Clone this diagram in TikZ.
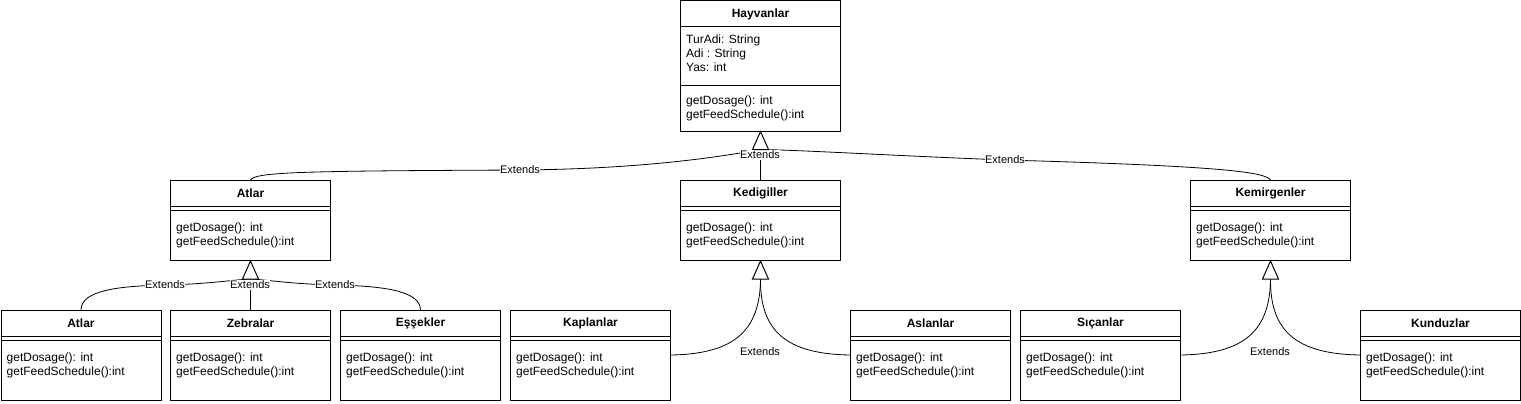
\documentclass[tikz,border=0pt]{standalone}
\usepackage{fontspec}
\setmainfont{Liberation Sans}
\usetikzlibrary{calc}
\tikzset{
  box/.style={draw, line width=1pt, fill=white, anchor=north west, minimum width=160pt, inner sep=0pt},
  title/.style={font=\fontsize{12}{14}\selectfont\bfseries, inner sep=0pt},
  member/.style={font=\fontsize{12}{14}\selectfont, anchor=north west, align=left, inner sep=0pt},
  sep/.style={line width=1pt},
  edge/.style={line width=0.8pt},
  lbl/.style={font=\fontsize{11}{13}\selectfont, fill=white, inner sep=0.5pt},
  tri/.style={draw, line width=1pt, fill=white}
}
\newcommand{\subclass}[5]{% name, x, y, title, height
  \node[box, minimum height=#5pt] (#1) at (#2,#3) {};
  \node[title] (#1t) at ($(#1.north)+(0,13.5)$) {#4};
  \draw[sep] ($(#1.north west)+(0,26)$) -- ($(#1.north east)+(0,26)$);
  \draw[sep] ($(#1.north west)+(0,30)$) -- ($(#1.north east)+(0,30)$);
  \node[member] (#1m) at ($(#1.north west)+(6,42.5)$) {getDosage(): int\\getFeedSchedule():int};
}
\newcommand{\opentri}[1]{% base-centre coordinate name
  \draw[tri] ($(#1)+(-8,0)$) -- ($(#1)+(0,-18)$) -- ($(#1)+(8,0)$) -- cycle;
}
\begin{document}
\begin{tikzpicture}[x=1pt,y=-1pt]
\useasboundingbox[fill=white] (0,0) rectangle (1521,404);

% root
\node[box, minimum height=130pt] (hay) at (680,0.5) {};
\node[title] (hayt) at ($(hay.north)+(0,13.5)$) {Hayvanlar};
\draw[sep] ($(hay.north west)+(0,26)$) -- ($(hay.north east)+(0,26)$);
\draw[sep] ($(hay.north west)+(0,85)$) -- ($(hay.north east)+(0,85)$);
\node[member] (haya) at ($(hay.north west)+(6,34.5)$) {TurAdi: String\\Adi : String\\Yas: int};
\node[member] (haym) at ($(hay.north west)+(6,95.5)$) {getDosage(): int\\getFeedSchedule():int};

% middle row
\subclass{atlarA}{170}{180}{Atlar}{80}
\subclass{kedi}{680}{180}{Kedigiller}{80}
\subclass{kemi}{1190}{180}{Kemirgenler}{80}

% bottom row
\subclass{atlarB}{0.5}{310}{Atlar}{90}
\subclass{zebra}{170}{310}{Zebralar}{90}
\subclass{esek}{340}{310}{Eşşekler}{90}
\subclass{kaplan}{510}{310}{Kaplanlar}{90}
\subclass{aslan}{850}{310}{Aslanlar}{90}
\subclass{sican}{1020}{310}{Sıçanlar}{90}
\subclass{kunduz}{1360}{310}{Kunduzlar}{90}

% triangle bases
\coordinate (t0) at ($(hay.south)+(0,18)$);
\coordinate (t1) at ($(atlarA.south)+(0,18)$);
\coordinate (t2) at ($(kedi.south)+(0,18)$);
\coordinate (t3) at ($(kemi.south)+(0,18)$);

% edges to Hayvanlar
\draw[edge] (atlarA.north) .. controls ($(atlarA.north)+(5,-8)$) and (300,171) .. (520,170)
  .. controls (650,169) and (730,155) .. (t0);
\node[lbl] (l1) at (520,170) {Extends};
\draw[edge] (kemi.north) .. controls ($(kemi.north)+(-5,-8)$) and (1220,166) .. (1005,160)
  .. controls (900,156) and (800,150) .. (t0);
\node[lbl] (l2) at (1005,160) {Extends};
\draw[edge] (kedi.north) -- (t0);
\node[lbl] (l3) at (760,155) {Extends};
\opentri{t0}

% edges to Atlar (mid)
\draw[edge] (atlarB.north) .. controls ($(atlarB.north)+(0,-20)$) and (120,286) .. (165,285)
  .. controls (210,284) and (230,280) .. (t1);
\node[lbl] (l4) at (165,285) {Extends};
\draw[edge] (esek.north) .. controls ($(esek.north)+(0,-20)$) and (380,286) .. (335,285)
  .. controls (290,284) and (270,280) .. (t1);
\node[lbl] (l5) at (335,285) {Extends};
\draw[edge] (zebra.north) -- (t1);
\node[lbl] (l6) at (250,285) {Extends};
\opentri{t1}

% edges to Kedigiller
\draw[edge] ($(kaplan.north east)+(0,45)$) .. controls (735,354) and (760,330) .. (t2);
\draw[edge] ($(aslan.north west)+(0,45)$) .. controls (785,354) and (760,330) .. (t2);
\node[lbl, fill=none] (l7) at (760,352) {Extends};
\opentri{t2}

% edges to Kemirgenler
\draw[edge] ($(sican.north east)+(0,45)$) .. controls (1245,354) and (1270,330) .. (t3);
\draw[edge] ($(kunduz.north west)+(0,45)$) .. controls (1295,354) and (1270,330) .. (t3);
\node[lbl, fill=none] (l8) at (1270,352) {Extends};
\opentri{t3}
\end{tikzpicture}
\end{document}
